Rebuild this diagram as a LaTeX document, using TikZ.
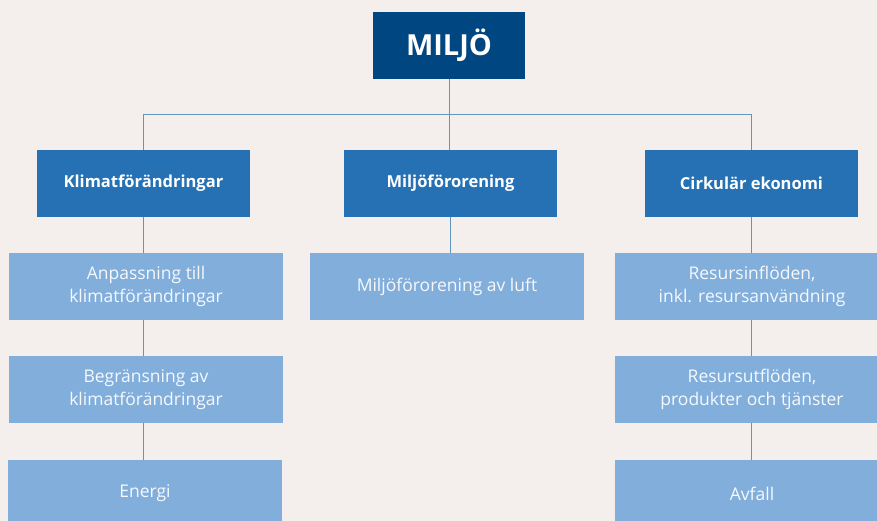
\documentclass[tikz,border=0pt]{standalone}
\usepackage{fontspec}
\setmainfont{Open Sans}
\usepackage{tikz}
\usetikzlibrary{positioning, calc}
\definecolor{sfondo}{HTML}{F4EFEC}
\definecolor{scuro}{HTML}{004680}
\definecolor{medio}{HTML}{2571B4}
\definecolor{chiaro}{HTML}{82AEDB}
\definecolor{linea}{HTML}{6496BC}
\tikzset{
    radice/.style = {fill = scuro, text = white, font = \fontsize{29}{32}\selectfont\bfseries,
        minimum width = 152, minimum height = 67, inner sep = 0pt},
    ramo/.style = {fill = medio, text = white, font = \fontsize{16.5}{18}\selectfont\bfseries,
        minimum width = 213, minimum height = 67, inner sep = 0pt},
    foglia/.style = {fill = chiaro, text = white!92!chiaro, font = \fontsize{17.5}{23}\selectfont,
        minimum width = 274, minimum height = 67, inner sep = 0pt, align = center},
    filo/.style = {draw = linea, line width = 0.9pt}
}

\begin{document}
\begin{tikzpicture}[x = 1pt, y = -1pt]
    % Sfondo
    \fill[sfondo] (0,0) rectangle (877,521);
    \useasboundingbox (0,0) rectangle (877,521);
    % Radice
    \node[radice] (miljo) at (449,45.5) {MILJÖ};
    % Rami
    \node[ramo] (klimat) at (143.5,183.5) {Klimatförändringar};
    \node[ramo] (fororening) at (450.5,183.5) {Miljöförorening};
    \node[ramo] (cirkular) at (751.5,183.5) {Cirkulär ekonomi};
    % Foglie
    \node[foglia] (anpassning) at (146,286.5) {Anpassning till\\klimatförändringar};
    \node[foglia] (begransning) at (146,389.5) {Begränsning av\\klimatförändringar};
    \node[foglia] (energi) at (145,493.5) {Energi};
    \node[foglia] (luft) at (447,286.5) {Miljöförorening av luft};
    \node[foglia] (inflode) at (752,286.5) {Resursinflöden,\\inkl. resursanvändning};
    \node[foglia] (utflode) at (752,389.5) {Resursutflöden,\\produkter och tjänster};
    \node[foglia] (avfall) at (752,493.5) {Avfall};
    % Collegamenti
    \coordinate (snodo) at (449.5,114.5);
    \draw[filo] (miljo.south -| snodo) -- (snodo);
    \draw[filo] (klimat.north) -- (klimat.north |- snodo) -| (cirkular.north);
    \draw[filo] (snodo) -- (fororening.north -| snodo);
    \draw[filo] (klimat.south) -- (klimat.south |- anpassning.north);
    \draw[filo] (klimat.south |- anpassning.south) -- (klimat.south |- begransning.north);
    \draw[filo] (klimat.south |- begransning.south) -- (klimat.south |- energi.north);
    \draw[filo] (fororening.south) -- (fororening.south |- luft.north);
    \draw[filo] (cirkular.south) -- (cirkular.south |- inflode.north);
    \draw[filo] (cirkular.south |- inflode.south) -- (cirkular.south |- utflode.north);
    \draw[filo] (cirkular.south |- utflode.south) -- (cirkular.south |- avfall.north);
\end{tikzpicture}
\end{document}
